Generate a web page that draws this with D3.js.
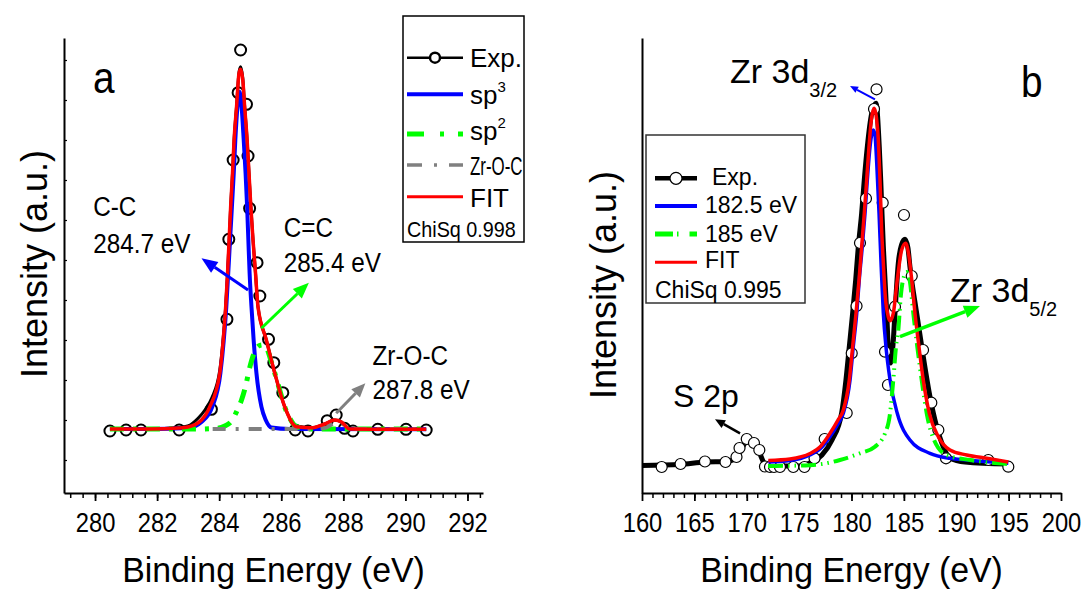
<!DOCTYPE html>
<html>
<head>
<meta charset="utf-8">
<script src="https://cdn.jsdelivr.net/npm/d3@7"></script>
<style>
body { margin: 0; background: #fff; }
text { font-family: "Liberation Sans", Arial, sans-serif; }
</style>
</head>
<body>
<script>
// ---- panel a : C 1s, [binding energy eV, counts] ----
var aTicks = [280, 282, 284, 286, 288, 290, 292];
var aExp = [[280.48,725],[281.00,750],[281.48,750],[282.71,750],[283.75,1268],[284.25,3518],[284.31,5518],
  [284.45,7500],[284.61,9183],[284.69,10250],[284.88,8893],[284.93,7600],[284.98,6293],[285.22,4933],
  [285.31,4100],[285.59,3018],[285.76,2433],[286.05,1683],[286.45,750],[286.86,725],[287.48,983],
  [287.77,1125],[288.04,793],[288.31,725],[289.11,768],[290.02,768],[290.67,750]];
var aExpLine = [[280.48,775],[281.77,775],[282.70,810],[282.99,850],[283.32,1043],[283.54,1250],[283.76,1550],
  [284.02,2250],[284.13,3050],[284.21,3850],[284.27,4680],[284.32,5500],[284.37,6333],[284.43,7175],
  [284.48,8000],[284.56,8850],[284.64,9700],[284.69,9833],[284.76,9550],[284.82,8850],[284.90,8000],
  [284.96,7175],[285.02,6333],[285.09,5500],[285.17,4675],[285.25,3833],[285.52,3000],[285.79,2175],
  [286.11,1333],[286.49,850],[287.01,810],[287.40,900],[287.72,1000],[287.94,950],[288.20,780],
  [289.16,770],[290.67,770]];
var aSp3 = [[280.48,775],[281.77,775],[282.99,800],[283.43,950],[283.78,1333],[284.04,2175],[284.23,3833],
  [284.35,5500],[284.47,7175],[284.52,8000],[284.59,8833],[284.66,9208],[284.73,8750],[284.79,8000],
  [284.85,7175],[284.90,6333],[284.94,5500],[284.98,4675],[285.04,3833],[285.11,3000],[285.20,2175],
  [285.36,1333],[285.50,1000],[285.68,813],[286.27,775],[290.67,768]];
var aSp2 = [[280.48,775],[283.38,775],[283.86,788],[284.18,850],[284.40,975],[284.57,1225],[284.72,1500],
  [284.86,1875],[284.98,2300],[285.14,2700],[285.27,2850],[285.40,2875],[285.53,2800],[285.66,2500],
  [285.79,2175],[285.95,1750],[286.11,1333],[286.27,1050],[286.49,833],[286.91,775],[290.55,775]];
var aZrOC = [[283.79,775],[286.91,775],[287.40,800],[287.65,900],[287.81,950],[287.97,900],[288.20,800],
  [288.68,775],[290.61,775]];
var aFit = [[280.48,775],[281.77,775],[282.70,800],[282.99,825],[283.43,1000],[283.70,1333],[284.02,2175],
  [284.13,3000],[284.21,3833],[284.27,4675],[284.32,5500],[284.37,6333],[284.43,7175],[284.48,8000],
  [284.56,8833],[284.64,9675],[284.69,9768],[284.76,9500],[284.82,8833],[284.90,8000],[284.96,7175],
  [285.02,6333],[285.09,5500],[285.17,4675],[285.25,3833],[285.52,3000],[285.79,2175],[286.11,1333],
  [286.49,833],[287.01,808],[287.40,900],[287.72,1000],[287.94,950],[288.20,775],[289.16,768],[290.67,768]];

// ---- panel b : Zr 3d ----
var bTicks = [160, 165, 170, 175, 180, 185, 190, 195, 200];
var bExp = [[161.88,-10],[163.68,20],[166.01,45],[167.97,40],[169.02,90],[169.31,180],[170.00,270],
  [170.69,230],[171.20,160],[171.74,-5],[172.22,-10],[172.60,-10],[173.17,-10],[174.44,-10],[175.51,-10],
  [176.47,77],[177.44,270],[179.54,530],[180.02,1127],[180.48,1600],[180.81,2230],[181.38,2675],
  [182.15,3570],[182.39,3767],[182.98,2633],[183.20,1143],[183.48,810],[184.15,1593],[185.01,2510],
  [185.75,1900],[186.83,1160],[187.62,633],[188.29,360],[189.02,77],[193.06,60],[194.97,-7]];
var bExpLine = [[160.00,5],[163.63,15],[166.01,40],[168.02,45],[169.07,80],[169.45,160],[170.02,240],
  [170.69,210],[171.17,140],[171.74,20],[172.41,0],[175.08,0],[176.23,40],[177.18,110],[178.14,260],
  [179.06,530],[179.47,860],[179.79,1193],[180.11,1530],[180.40,1860],[180.65,2193],[180.97,2527],
  [181.22,2860],[181.51,3193],[181.93,3527],[182.34,3627],[182.65,3193],[182.79,2860],[182.91,2530],
  [183.04,2193],[183.20,1860],[183.36,1530],[183.51,1193],[183.72,1030],[183.96,1210],[184.15,1530],
  [184.47,2030],[184.77,2210],[185.11,2267],[185.39,2180],[185.58,1993],[186.22,1530],[186.85,1093],
  [187.49,693],[188.13,393],[188.76,193],[189.40,80],[190.84,40],[194.94,20]];
var b1825 = [[172.06,40],[174.13,55],[176.04,110],[176.99,170],[177.95,293],[178.71,420],[179.22,527],
  [179.86,860],[180.17,1193],[180.50,1527],[180.74,1860],[181.03,2193],[181.29,2527],[181.51,2860],
  [181.77,3193],[182.08,3360],[182.24,3310],[182.41,3027],[182.63,2527],[182.82,2027],[183.04,1527],
  [183.29,1193],[183.68,860],[184.37,527],[185.58,260],[187.49,127],[189.40,77],[191.00,60],[194.97,27]];
var b185 = [[172.03,0],[175.08,5],[177.18,20],[178.90,60],[180.81,127],[182.24,193],[183.20,327],
  [183.68,527],[183.99,860],[184.25,1193],[184.47,1360],[184.70,1693],[184.92,1860],[185.27,1940],
  [185.58,1840],[185.90,1527],[186.28,1193],[186.70,860],[187.18,527],[187.88,260],[189.09,110],
  [191.31,60],[194.94,20]];
var bFit = [[172.06,55],[174.13,70],[176.04,125],[176.99,190],[177.95,327],[178.71,460],[179.22,560],
  [179.79,860],[180.11,1193],[180.43,1527],[180.72,1860],[180.97,2193],[181.22,2527],[181.45,2860],
  [181.67,3193],[181.89,3460],[182.15,3577],[182.50,3360],[182.72,2860],[182.88,2360],[183.04,2027],
  [183.23,1693],[183.51,1493],[183.68,1453],[183.99,1527],[184.37,1860],[184.79,2160],[185.17,2227],
  [185.49,2093],[185.75,1860],[186.06,1527],[186.44,1193],[186.85,860],[187.43,527],[188.29,293],
  [189.40,160],[191.00,110],[193.06,75],[194.97,40]];

var FONT = '"Liberation Sans", Arial, sans-serif';
var svg = d3.select("body").append("svg").attr("width", 1086).attr("height", 590);

var xa = d3.scaleLinear().domain([279, 292.5]).range([64, 483]);
var ya = d3.scaleLinear().domain([-825, 10550]).range([493, 38]);
var xb = d3.scaleLinear().domain([160, 200]).range([642, 1061]);
var yb = d3.scaleLinear().domain([-270, 4280]).range([493, 38]);

function txt(g, x, y, s, size, sx, anchor) {
  return g.append("text")
    .attr("transform", "translate(" + x + "," + y + ") scale(" + sx + ",1)")
    .attr("font-size", size)
    .attr("text-anchor", anchor || "start")
    .text(s);
}

function axes(x, y, majors, minors, yMinor) {
  var y0 = y.range()[0];
  svg.append("g").attr("transform", "translate(0," + y0 + ")")
    .call(d3.axisBottom(x).tickValues(minors).tickSize(5).tickSizeOuter(0).tickFormat(""))
    .call(function (g) { g.selectAll("line").attr("stroke-width", 1.5); g.select(".domain").remove(); });
  var ax = svg.append("g").attr("transform", "translate(0," + y0 + ")")
    .call(d3.axisBottom(x).tickValues(majors).tickSize(8).tickSizeOuter(0).tickFormat(d3.format("d")));
  ax.select(".domain").attr("stroke-width", 2);
  ax.selectAll("line").attr("stroke-width", 1.8);
  ax.attr("font-family", FONT).attr("font-size", 27);
  ax.selectAll("text").attr("y", 38.7).attr("dy", 0).attr("transform", "scale(0.88,1)").attr("fill", "#000");
  var ay = svg.append("g").attr("transform", "translate(" + x.range()[0] + ",0)")
    .call(d3.axisLeft(y).tickValues(yMinor).tickSize(-3).tickSizeOuter(0).tickFormat(""));
  ay.select(".domain").attr("stroke-width", 2);
  ay.selectAll("line").attr("stroke-width", 1.2);
}

function curve(x, y, data, color, w, dash) {
  var line = d3.line().x(function (d) { return x(d[0]); }).y(function (d) { return y(d[1]); })
    .curve(d3.curveMonotoneX);
  svg.append("path").datum(data).attr("d", line)
    .attr("fill", "none").attr("stroke", color).attr("stroke-width", w)
    .attr("stroke-linejoin", "round").attr("stroke-dasharray", dash || null);
}

function dots(x, y, data, r, sw, fill) {
  svg.append("g").selectAll("circle").data(data).enter().append("circle")
    .attr("cx", function (d) { return x(d[0]); })
    .attr("cy", function (d) { return y(d[1]); })
    .attr("r", r).attr("fill", fill).attr("stroke", "#000").attr("stroke-width", sw);
}

function arrow(x1, y1, x2, y2, color, w, hl, hw) {
  var a = Math.atan2(y2 - y1, x2 - x1);
  var bx = x2 - hl * Math.cos(a), by = y2 - hl * Math.sin(a);
  var px = Math.sin(a) * hw / 2, py = Math.cos(a) * hw / 2;
  svg.append("line").attr("x1", x1).attr("y1", y1).attr("x2", bx).attr("y2", by)
    .attr("stroke", color).attr("stroke-width", w);
  svg.append("path").attr("d", "M" + x2 + "," + y2 + "L" + (bx + px) + "," + (by - py) + "L" + (bx - px) + "," + (by + py) + "Z")
    .attr("fill", color);
}

function legLine(g, x1, x2, y, color, w, dash) {
  g.append("line").attr("x1", x1).attr("x2", x2).attr("y1", y).attr("y2", y)
    .attr("stroke", color).attr("stroke-width", w).attr("stroke-dasharray", dash || null);
}

// ---------- panel a ----------
axes(xa, ya, aTicks, d3.range(279.2, 292.5, 0.4), d3.range(0, 10001, 1000));

curve(xa, ya, aExpLine, "#000", 3);
dots(xa, ya, aExp, 5.5, 2, "none");
curve(xa, ya, aSp3, "#0000ff", 4);
curve(xa, ya, aSp2, "#00ff00", 5, "14,9,4,9");
curve(xa, ya, aZrOC, "#808080", 4, "13,10,3,10");
curve(xa, ya, aFit, "#ff0000", 3.5);

arrow(xa(284.93), ya(4250), xa(283.43), ya(5043), "#0000ff", 3, 16, 13);
arrow(xa(285.36), ya(3293), xa(286.89), ya(4433), "#00ff00", 3, 16, 13);
arrow(xa(287.77), ya(1168), xa(288.71), ya(1918), "#808080", 3, 14, 12);

var ga = svg.append("g");
txt(ga, xa(279.94), ya(6100), "C-C", 27, 0.9);
txt(ga, xa(279.94), ya(5183), "284.7 eV", 27, 0.9);
txt(ga, xa(286.08), ya(5583), "C=C", 27, 0.9);
txt(ga, xa(286.08), ya(4708), "285.4 eV", 27, 0.9);
txt(ga, xa(288.94), ya(2375), "Zr-O-C", 27, 0.9);
txt(ga, xa(288.94), ya(1525), "287.8 eV", 27, 0.9);
txt(ga, 93, 93, "a", 44, 0.88);

txt(ga, 273.5, 582, "Binding Energy (eV)", 36, 0.94, "middle");
ga.append("text").attr("transform", "translate(47,264) rotate(-90)")
  .attr("font-size", 36).attr("text-anchor", "middle").text("Intensity (a.u.)");

// legend a
ga.append("rect").attr("x", 403).attr("y", 16).attr("width", 121).attr("height", 226)
  .attr("fill", "#fff").attr("stroke", "#000").attr("stroke-width", 1.5);
legLine(ga, 407, 463, 57.7, "#000", 2.5);
ga.append("circle").attr("cx", 435).attr("cy", 57.7).attr("r", 5).attr("fill", "#fff")
  .attr("stroke", "#000").attr("stroke-width", 2.5);
legLine(ga, 407, 463, 94.3, "#0000ff", 4);
legLine(ga, 407, 463, 134, "#00ff00", 5, "17,16,4,14");
legLine(ga, 407, 463, 165, "#808080", 3.5, "15,12,3,12");
legLine(ga, 407, 463, 196.7, "#ff0000", 3);
txt(ga, 470, 66.7, "Exp.", 26, 1);
var s3 = txt(ga, 470, 104.3, "sp", 26, 1);
s3.append("tspan").attr("font-size", 15).attr("dy", -12).text("3");
var s2 = txt(ga, 470, 140, "sp", 26, 1);
s2.append("tspan").attr("font-size", 15).attr("dy", -12).text("2");
txt(ga, 470, 175, "Zr-O-C", 26, 0.65);
txt(ga, 470, 206.7, "FIT", 26, 1);
txt(ga, 407, 236.7, "ChiSq 0.998", 22, 0.9);

// ---------- panel b ----------
axes(xb, yb, bTicks, d3.range(161, 200, 1), []);

curve(xb, yb, bExpLine, "#000", 5);
dots(xb, yb, bExp, 5.5, 1.2, "#fff");
curve(xb, yb, b1825, "#0000ff", 3.5);
curve(xb, yb, b185, "#00ff00", 4, "15,5,1.5,5,1.5,5");
curve(xb, yb, bFit, "#ff0000", 3.5);

arrow(xb(182.24), yb(3667), xb(179.86), yb(3800), "#0000ff", 2, 8, 7);
arrow(xb(184.63), yb(1293), xb(192.27), yb(1600), "#00ff00", 3.5, 16, 13);
arrow(xb(169.36), yb(327), xb(166.97), yb(467), "#000", 2.5, 10, 9);

var gb = svg.append("g");
var z1 = txt(gb, xb(168.40), yb(3827), "Zr 3d", 34, 1);
z1.append("tspan").attr("font-size", 20).attr("dy", 14).text("3/2");
var z2 = txt(gb, xb(189.40), yb(1643), "Zr 3d", 34, 1);
z2.append("tspan").attr("font-size", 20).attr("dy", 14).text("5/2");
txt(gb, xb(162.96), yb(593), "S 2p", 32, 1);
txt(gb, 1021, 96.7, "b", 44, 0.88);

txt(gb, 851.5, 582, "Binding Energy (eV)", 36, 0.94, "middle");
gb.append("text").attr("transform", "translate(616,285) rotate(-90)")
  .attr("font-size", 36).attr("text-anchor", "middle").text("Intensity (a.u.)");

// legend b
gb.append("rect").attr("x", 646).attr("y", 135).attr("width", 159).attr("height", 168)
  .attr("fill", "#fff").attr("stroke", "#333").attr("stroke-width", 1.5);
legLine(gb, 655, 697, 178.3, "#000", 4.5);
gb.append("circle").attr("cx", 676).attr("cy", 178.3).attr("r", 6).attr("fill", "#fff")
  .attr("stroke", "#000").attr("stroke-width", 1.2);
legLine(gb, 655, 697, 206, "#0000ff", 4);
legLine(gb, 655, 697, 234, "#00ff00", 5, "18,4,1.5,11");
legLine(gb, 655, 697, 262.3, "#ff0000", 3);
txt(gb, 712, 185, "Exp.", 23, 1);
txt(gb, 705, 213.3, "182.5 eV", 23, 1);
txt(gb, 705, 241.7, "185 eV", 23, 1);
txt(gb, 705, 268.3, "FIT", 23, 1);
txt(gb, 655, 298.3, "ChiSq 0.995", 23, 1);
</script>
</body>
</html>
